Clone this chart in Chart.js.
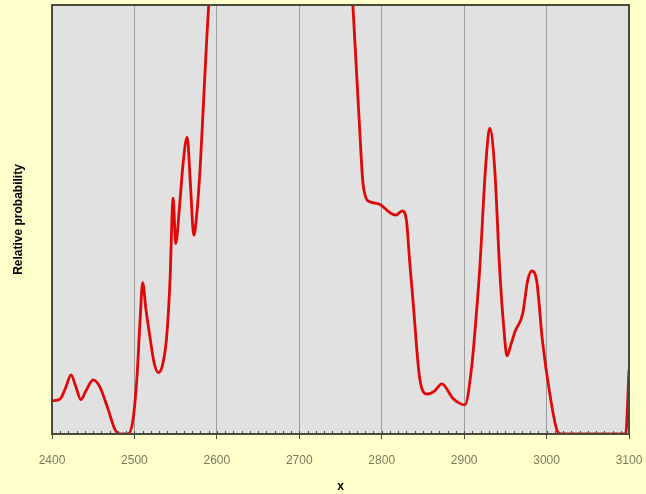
<!DOCTYPE html>
<html>
<head>
<meta charset="utf-8">
<script src="https://cdn.jsdelivr.net/npm/chart.js@4.4.1/dist/chart.umd.min.js"></script>
<style>
  html, body { margin: 0; padding: 0; background: #ffffcc; }
  #wrap { width: 646px; height: 494px; }
</style>
</head>
<body>
<div id="wrap"><canvas id="chart"></canvas></div>
<script>
// values (y runs off the top between ~2590 and ~2764)
const xValues = [2400, 2410, 2417, 2423, 2429, 2435, 2441, 2450, 2458, 2468, 2476, 2482, 2492, 2498,
  2503, 2507, 2510, 2514, 2519, 2524, 2529, 2534, 2539, 2543, 2547, 2550, 2555, 2559, 2564, 2568, 2572,
  2576, 2580, 2584, 2588, 2591, 2595, 2680, 2755, 2765, 2769, 2773, 2777, 2781, 2784, 2788, 2798, 2810,
  2817, 2825, 2830, 2834, 2838, 2846, 2855, 2864, 2873, 2886, 2894, 2901, 2909, 2914, 2919, 2926,
  2931, 2937, 2943, 2948, 2952, 2957, 2962, 2971, 2977, 2982, 2988, 2995, 3004, 3013, 3018,
  3050, 3096, 3100];
const probValues = [7.7, 8.2, 11, 13.8, 11, 8, 10, 12.6, 11, 5.8, 1.2, 0, 0, 3,
  13, 27, 35.3, 29, 22.4, 16.5, 14.3, 16, 22.4, 35, 55, 44.4, 53.7, 63, 69.2, 58, 46.3,
  52, 63, 78, 93, 103, 119, 170, 136, 100, 86, 72, 59, 55, 54.3, 54, 53.5, 51.6,
  51, 52, 49.8, 40, 31, 13.1, 9.3, 10, 11.7, 8.4, 7.2, 6.8, 15.4, 26, 38.8, 62.1,
  71.3, 62.1, 38.8, 25, 18.2, 21, 24, 28, 35.7, 38, 35.7, 21.7, 9.3, 0.7, 0,
  0, 0, 15];
const xTicks = [2400, 2500, 2600, 2700, 2800, 2900, 3000, 3100];
const minorStep = 10;

const points = xValues.map((x, i) => ({ x, y: probValues[i] }));

const plotFrame = {
  id: 'plotFrame',
  beforeDraw(chart) {
    const { ctx, chartArea: a } = chart;
    ctx.save();
    ctx.fillStyle = '#e1e1e1';
    ctx.fillRect(a.left, a.top, a.right - a.left, a.bottom - a.top);
    ctx.restore();
  },
  afterDraw(chart) {
    const { ctx, chartArea: a } = chart;
    const xs = chart.scales.x;
    ctx.save();
    ctx.strokeStyle = '#4b4b3c';
    ctx.lineWidth = 2;
    ctx.strokeRect(a.left, a.top, a.right - a.left, a.bottom - a.top);
    // small inward minor ticks
    ctx.lineWidth = 1;
    for (let v = xs.min; v <= xs.max; v += minorStep) {
      const px = Math.round(xs.getPixelForValue(v)) + 0.5;
      ctx.beginPath();
      ctx.moveTo(px, a.bottom);
      ctx.lineTo(px, a.bottom - 3);
      ctx.stroke();
    }
    ctx.restore();
  }
};

new Chart(document.getElementById('chart'), {
  type: 'line',
  data: {
    datasets: [{
      data: points,
      borderColor: '#e00808',
      borderWidth: 2.8,
      pointRadius: 0,
      cubicInterpolationMode: 'monotone',
      fill: false
    }]
  },
  options: {
    responsive: true,
    maintainAspectRatio: false,
    animation: false,
    layout: { padding: { top: 5, right: 17, left: 0, bottom: 0 } },
    plugins: { legend: { display: false }, tooltip: { enabled: false } },
    scales: {
      x: {
        type: 'linear',
        min: 2400,
        max: 3100,
        afterBuildTicks: scale => { scale.ticks = xTicks.map(v => ({ value: v })); },
        ticks: {
          color: '#7a7a5a',
          font: { family: 'Arial, "Liberation Sans"', size: 12 },
          padding: 14,
          maxRotation: 0,
          callback: v => String(v)
        },
        grid: {
          color: ctx => (ctx.tick && (ctx.tick.value === 2400 || ctx.tick.value === 3100)) ? 'transparent' : '#9d9d9d',
          tickColor: '#4b4b3c',
          tickLength: 5,
          lineWidth: 1
        },
        border: { display: false },
        title: {
          display: true,
          text: 'x',
          color: '#000',
          font: { family: 'Arial, "Liberation Sans"', size: 12, weight: 'bold' },
          padding: { top: 3, bottom: 0 }
        },
        afterFit: scale => {
          scale.height = 60;
          scale.paddingLeft = 0;
          scale.paddingRight = 0;
        }
      },
      y: {
        min: 0,
        max: 100,
        ticks: { display: false },
        grid: { display: false },
        border: { display: false },
        title: {
          display: true,
          text: 'Relative probability',
          color: '#000',
          font: { family: 'Arial, "Liberation Sans"', size: 12, weight: 'bold' },
          padding: { top: 11, bottom: 0 }
        },
        afterFit: scale => { scale.width = 52; }
      }
    }
  },
  plugins: [plotFrame]
});
</script>
</body>
</html>
